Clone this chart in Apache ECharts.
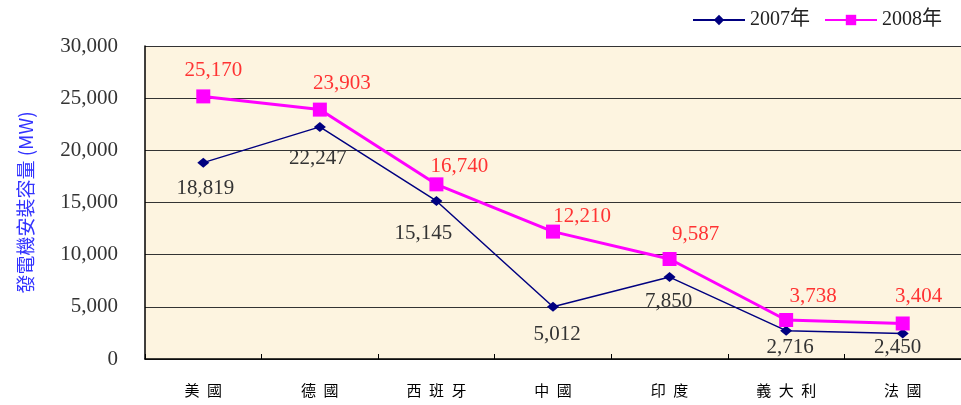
<!DOCTYPE html>
<html>
<head>
<meta charset="utf-8">
<script src="https://cdn.jsdelivr.net/npm/echarts@6/dist/echarts.min.js"></script>
<style>
html,body{margin:0;padding:0;background:#fff;}
#c{width:961px;height:405px;}
</style>
</head>
<body>
<div id="c"></div>
<script>
const categories = ['美國', '德國', '西班牙', '中國', '印度', '義大利', '法國'];
const values2007 = [18819, 22247, 15145, 5012, 7850, 2716, 2450];
const values2008 = [25170, 23903, 16740, 12210, 9587, 3738, 3404];
const seriesNames = ['2007年', '2008年'];
const yTicks = { min: 0, max: 30000, interval: 5000 };

const off2007 = [[2, 26], [-2, 32], [-13, 32], [4, 28], [-1, 24], [4, 17], [-5, 14]];
const off2008 = [[10, -26], [22, -26], [23, -18], [29, -15], [26, -24], [27, -24], [16, -27]];

const serif = '"Liberation Serif", "Times New Roman", "Noto Sans CJK TC", serif';
const fmtNum = v => v.toLocaleString('en-US');

function items(vals, offs) {
  return vals.map((v, i) => ({ value: v, label: { offset: offs[i] } }));
}

const chart = echarts.init(document.getElementById('c'));
chart.setOption({
  animation: false,
  backgroundColor: '#ffffff',
  grid: {
    left: 145, right: -1, top: 46, bottom: 46,
    show: true, backgroundColor: '#fdf4e0', borderColor: '#999', borderWidth: 0
  },
  legend: {
    top: 5, right: 14,
    itemWidth: 52, itemHeight: 13, itemGap: 14,
    textStyle: { fontFamily: serif, fontSize: 20, color: '#222' },
    data: seriesNames
  },
  xAxis: {
    type: 'category',
    data: categories,
    boundaryGap: true,
    axisLine: { lineStyle: { color: '#000', width: 1.5 } },
    axisTick: { show: true, inside: true, length: 5, lineStyle: { color: '#000' } },
    axisLabel: {
      margin: 24,
      fontFamily: '"Noto Sans CJK TC", serif',
      fontSize: 15,
      color: '#000',
      formatter: v => v.split('').join('\u2002')
    },
    splitLine: { show: false }
  },
  yAxis: {
    type: 'value',
    min: yTicks.min, max: yTicks.max, interval: yTicks.interval,
    name: '發電機安裝容量 (MW)',
    nameLocation: 'middle',
    nameRotate: 90,
    nameGap: 110,
    nameTextStyle: { color: '#3333ff', fontSize: 19, fontFamily: '"Noto Sans CJK TC", serif' },
    axisLine: { show: true, lineStyle: { color: '#000', width: 1.5 } },
    axisTick: { show: false },
    axisLabel: { margin: 27, fontFamily: serif, fontSize: 21, color: '#333', formatter: fmtNum },
    splitLine: { show: true, lineStyle: { color: '#333', width: 1 } }
  },
  series: [
    {
      name: seriesNames[0],
      type: 'line',
      data: items(values2007, off2007),
      symbol: 'diamond',
      symbolSize: [12, 10],
      itemStyle: { color: '#000080' },
      lineStyle: { color: '#000080', width: 1.5 },
      label: {
        show: true, position: 'inside',
        fontFamily: serif, fontSize: 21, color: '#333',
        formatter: p => fmtNum(p.value)
      },
      z: 3
    },
    {
      name: seriesNames[1],
      type: 'line',
      data: items(values2008, off2008),
      symbol: 'rect',
      symbolSize: 14,
      itemStyle: { color: '#ff00ff' },
      lineStyle: { color: '#ff00ff', width: 3 },
      label: {
        show: true, position: 'inside',
        fontFamily: serif, fontSize: 21, color: '#ff3333',
        formatter: p => fmtNum(p.value)
      },
      z: 4
    }
  ]
});
</script>
</body>
</html>
